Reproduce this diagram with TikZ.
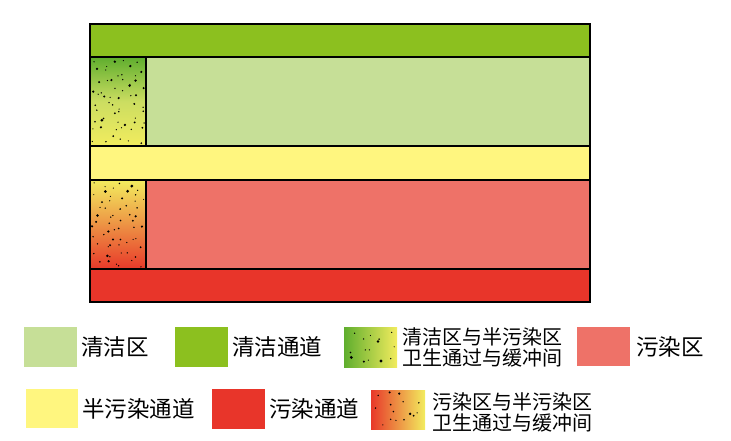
\documentclass[tikz,border=0pt]{standalone}
\usepackage{fontspec}
\newfontfamily\cjk{Noto Sans CJK SC}
\definecolor{cleanarea}{HTML}{C6DF97}
\definecolor{cleanpass}{HTML}{8CC01F}
\definecolor{semipass}{HTML}{FFF67F}
\definecolor{pollarea}{HTML}{EE7268}
\definecolor{pollpass}{HTML}{E8352A}
\definecolor{gradgreen}{HTML}{5FAE2E}
\definecolor{gradyellow}{HTML}{F2EC5E}
\definecolor{gradred}{HTML}{E8392A}
% jittered grid of dots: x0 y0 cols rows cellw cellh
\newcommand{\dotfield}[6]{%
  \foreach \c in {1,...,#3}{
    \foreach \r in {1,...,#4}{
      \pgfmathsetmacro{\px}{#1+(\c-1+rnd)*#5}
      \pgfmathsetmacro{\py}{#2+(\r-1+rnd)*#6}
      \pgfmathsetmacro{\pr}{0.6+1.2*rnd*rnd}
      \fill[black] (\px,\py) circle[radius=\pr pt];}}}
\begin{document}
\begin{tikzpicture}[x=1pt,y=-1pt,
  zoneline/.style={draw=black,line width=2pt},
  bigtext/.style={anchor=west,inner sep=0pt,font=\cjk\fontsize{22.5}{24}\selectfont},
  twotext/.style={anchor=west,inner sep=0pt,align=left,font=\cjk\fontsize{20}{21}\selectfont}]
\useasboundingbox (0,0) rectangle (731,441);
\pgfmathsetseed{42}
% main plan
\fill[cleanpass] (90,24) rectangle (590,57);
\fill[cleanarea] (146,57) rectangle (590,146);
\fill[semipass] (90,146) rectangle (590,180);
\fill[pollarea] (146,180) rectangle (590,269);
\fill[pollpass] (90,269) rectangle (590,302);
\shade[top color=gradgreen,bottom color=gradyellow,middle color=gradyellow!70!gradgreen!90] (90,57) rectangle (146,146);
\shade[top color=gradyellow,bottom color=gradred] (90,180) rectangle (146,269);
\dotfield{92}{59}{6}{10}{8.7}{8.5}
\dotfield{92}{182}{6}{10}{8.7}{8.5}
\draw[zoneline] (90,24) rectangle (590,302);
\draw[zoneline] (90,57) -- (590,57);
\draw[zoneline] (90,146) -- (590,146);
\draw[zoneline] (90,180) -- (590,180);
\draw[zoneline] (90,269) -- (590,269);
\draw[zoneline] (146,57) -- (146,146);
\draw[zoneline] (146,180) -- (146,269);
% legend row 1
\fill[cleanarea] (24,327) rectangle (77,367);
\node[bigtext] (l1) at (81,347) {清洁区};
\fill[cleanpass] (175,327) rectangle (228,367);
\node[bigtext] (l2) at (232,347) {清洁通道};
\shade[left color=gradgreen,right color=gradyellow] (344,327) rectangle (397,367);
\dotfield{346}{329}{5}{3}{9.8}{12}
\node[twotext] (l3) at (402,347.5) {清洁区与半污染区\\卫生通过与缓冲间};
\fill[pollarea] (577,327) rectangle (630,366);
\node[bigtext] (l4) at (636,347) {污染区};
% legend row 2
\fill[semipass] (26,389) rectangle (78,428);
\node[bigtext] (l5) at (82,408.5) {半污染通道};
\fill[pollpass] (212,389) rectangle (265,429);
\node[bigtext] (l6) at (269,408.5) {污染通道};
\shade[left color=gradred,right color=gradyellow] (371,390) rectangle (425,429);
\dotfield{373}{392}{5}{3}{10}{11.7}
\node[twotext] (l7) at (432,412) {污染区与半污染区\\卫生通过与缓冲间};
\end{tikzpicture}
\end{document}
